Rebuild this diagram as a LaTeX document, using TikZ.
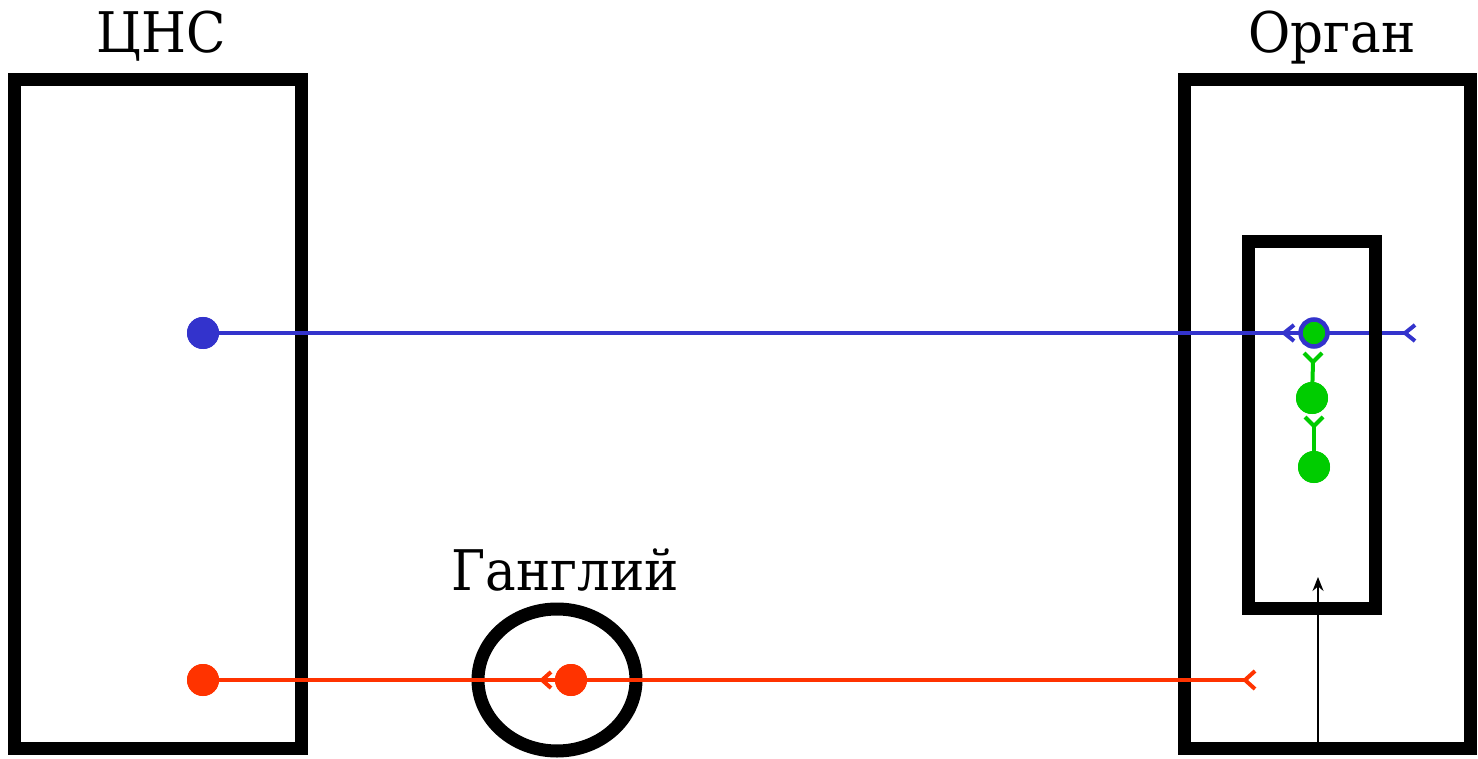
\documentclass[tikz,border=0pt]{standalone}
\usepackage{fontspec}
\newfontfamily\lserif{DejaVu Serif}[FakeStretch=0.92]
\usetikzlibrary{arrows.meta}
\definecolor{nblue}{HTML}{3333CC}
\definecolor{ngreen}{HTML}{00CC00}
\definecolor{nred}{HTML}{FF3300}
\begin{document}
\begin{tikzpicture}[x=1pt,y=-1pt,
  box/.style={draw=black,line width=13pt},
  dot/.style={circle,inner sep=0pt,minimum size=32pt},
  lbl/.style={font=\lserif\fontsize{56}{64}\selectfont,anchor=base,inner sep=0pt},
  fibre/.style={line width=4pt},
  chev/.style={line width=4pt,line cap=butt,line join=miter}]
\useasboundingbox (0,0) rectangle (1478,759);
% coordinates
\coordinate (bEnd) at (1405,333);
\coordinate (bSyn) at (1284,333);
\coordinate (rEnd) at (1245,680);
\coordinate (rSyn) at (542,680);
\coordinate (g1) at (1313,362);
\coordinate (g2) at (1314,426);
\coordinate (arrBase) at (1318,748);
\coordinate (arrTip) at (1318,577);
% boxes
\draw[box] (14,80) rectangle (301,748);
\draw[box] (1184,80) rectangle (1470,748);
\draw[box] (1248,242) rectangle (1375,608);
\draw[box] (557,680) ellipse [x radius=79, y radius=71];
% neurons (nodes)
\node[dot,fill=nblue] (cnsB) at (203,333) {};
\node[dot,fill=nred] (cnsR) at (203,680) {};
\node[dot,fill=nred] (gang) at (571,680) {};
\node[dot,fill=ngreen] (gr2) at (1312,398) {};
\node[dot,fill=ngreen] (gr3) at (1314,467) {};
% fibres
\draw[fibre,nblue] (cnsB.center) -- (bEnd);
\draw[fibre,nred] (cnsR.center) -- (rEnd);
\draw[fibre,ngreen] (gr2.center) -- (g1);
\draw[fibre,ngreen] (gr3.center) -- (g2);
% inner box right edge lies over the blue fibre
\draw[line width=13pt] (1375,300) -- (1375,360);
% dots on top
\node[dot,fill=nblue] at (cnsB) {};
\node[dot,fill=nred] at (cnsR) {};
\node[dot,fill=nred] at (gang) {};
\node[dot,fill=ngreen] at (gr2) {};
\node[dot,fill=ngreen] at (gr3) {};
\node[circle,inner sep=0pt,minimum size=27pt,draw=nblue,line width=4.5pt,fill=ngreen] (ring) at (1314,333) {};
% chevrons
\draw[chev,nblue] ([shift={(10,-8)}]bSyn) -- (bSyn) -- ([shift={(10,8)}]bSyn);
\draw[chev,nblue] ([shift={(10,-8)}]bEnd) -- (bEnd) -- ([shift={(10,8)}]bEnd);
\draw[chev,nred] ([shift={(9,-8)}]rSyn) -- (rSyn) -- ([shift={(9,8)}]rSyn);
\draw[chev,nred] ([shift={(10,-9)}]rEnd) -- (rEnd) -- ([shift={(10,9)}]rEnd);
\draw[chev,ngreen] ([shift={(-9,-9)}]g1) -- (g1) -- ([shift={(9,-9)}]g1);
\draw[chev,ngreen] ([shift={(-9,-9)}]g2) -- (g2) -- ([shift={(9,-9)}]g2);
% black arrow
\draw[line width=1.5pt,-{Stealth[length=14pt,width=11pt]}] (arrBase) -- (arrTip);
% labels
\node[lbl] (tCNS) at (161,53) {ЦНС};
\node[lbl] (tOrg) at (1332,53) {Орган};
\node[lbl] (tGang) at (565,590) {Ганглий};
\end{tikzpicture}
\end{document}
